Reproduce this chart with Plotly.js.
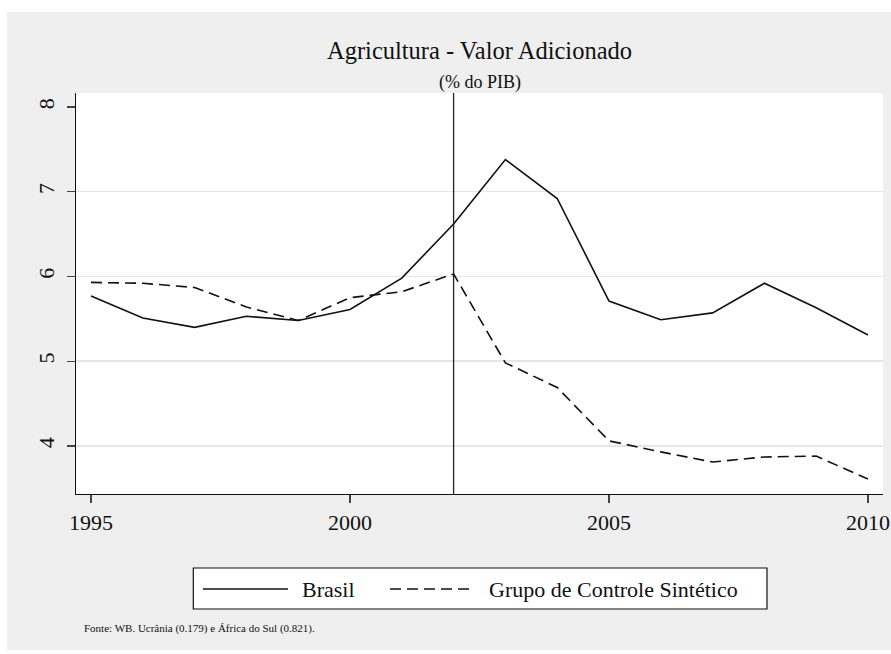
<!DOCTYPE html>
<html>
<head>
<meta charset="utf-8">
<script src="https://cdn.plot.ly/plotly-3.0.1.min.js"></script>
<style>
html,body{margin:0;padding:0;background:#ffffff;width:891px;height:654px;overflow:hidden;}
#chart{position:absolute;left:7px;top:12px;width:884px;height:638px;}
</style>
</head>
<body>
<div id="chart"></div>
<script>
const years = [1995,1996,1997,1998,1999,2000,2001,2002,2003,2004,2005,2006,2007,2008,2009,2010];
const brasil = [5.77,5.51,5.40,5.53,5.48,5.61,5.98,6.62,7.38,6.92,5.71,5.49,5.57,5.92,5.63,5.31];
const sintetico = [5.93,5.92,5.87,5.64,5.48,5.75,5.82,6.03,4.98,4.69,4.06,3.93,3.81,3.87,3.88,3.61];
const seriesNames = ["Brasil","Grupo de Controle Sintético"];
const xTicks = [1995,2000,2005,2010];
const yTicks = [4,5,6,7,8];
const gridTicks = [4,5,6,7];
const treatYear = 2002;

const serif = "Liberation Serif";
const ink = '#111111';
const dashPat = '11px,6px';

// plot area in page pixels: x 76..883, y 93..494
const PX = x => (x - 76) / 807;
const PY = y => (494 - y) / 401;

const traces = [
  {x: years, y: brasil, name: seriesNames[0], type:'scatter', mode:'lines',
   line:{color:ink, width:1.6}},
  {x: years, y: sintetico, name: seriesNames[1], type:'scatter', mode:'lines',
   line:{color:ink, width:1.6, dash:dashPat}},
  {x:[years[0]], y:[brasil[0]], yaxis:'y2', showlegend:false, hoverinfo:'skip',
   mode:'lines', line:{width:0}, type:'scatter'}
];

const layout = {
  width: 884, height: 638,
  paper_bgcolor:'#efefef', plot_bgcolor:'#ffffff',
  margin:{l:69, r:8, t:81, b:156},
  font:{family:serif, color:ink},
  showlegend:false,
  title:{text:'Agricultura - Valor Adicionado', font:{family:serif, size:24.5, color:ink},
         x:0.5, xref:'paper', xanchor:'center', y:1-38/638, yref:'container', yanchor:'middle'},
  xaxis:{range:[1994.71,2010.29], tickvals:xTicks, ticktext:xTicks.map(String),
         showgrid:false, zeroline:false, showline:true, linecolor:ink, linewidth:1.3,
         ticks:'outside', ticklen:8, tickcolor:'#444444', tickwidth:1.2,
         tickfont:{family:serif,size:22, color:ink}},
  yaxis:{range:[3.433,8.165], tickvals:yTicks, ticktext:yTicks.map(String),
         showgrid:false, zeroline:false, showline:true, linecolor:ink, linewidth:1.3,
         ticks:'outside', ticklen:8, tickcolor:'#444444', tickwidth:1.2, tickangle:-90,
         ticklabelstandoff:4,
         tickfont:{family:serif,size:22, color:ink}},
  yaxis2:{range:[3.433,8.165], overlaying:'y', tickvals:gridTicks, showticklabels:false,
          showgrid:true, gridcolor:'#e6e6e6', gridwidth:1.5, zeroline:false, showline:false, ticks:'',
          layer:'below traces'},
  shapes:[
    {type:'line', xref:'x', yref:'paper', x0:treatYear, x1:treatYear, y0:0, y1:1,
     line:{color:'#222222', width:1.3}},
    // legend box
    {type:'rect', xref:'paper', yref:'paper', x0:PX(193.3), x1:PX(767), y0:PY(609), y1:PY(568),
     fillcolor:'#ffffff', line:{color:ink, width:1.2}},
    {type:'line', xref:'paper', yref:'paper', x0:PX(203), x1:PX(288), y0:PY(589), y1:PY(589),
     line:{color:ink, width:1.6}},
    {type:'line', xref:'paper', yref:'paper', x0:PX(390), x1:PX(475), y0:PY(589), y1:PY(589),
     line:{color:ink, width:1.6, dash:dashPat}}
  ],
  annotations:[
    {text:'(% do PIB)', xref:'paper', yref:'paper', x:0.5, xanchor:'center', y:PY(82), yanchor:'middle',
     showarrow:false, font:{family:serif, size:18, color:ink}},
    {text:seriesNames[0], xref:'paper', yref:'paper', x:PX(300), xanchor:'left', y:PY(589), yanchor:'middle',
     showarrow:false, font:{family:serif, size:22, color:ink}},
    {text:seriesNames[1], xref:'paper', yref:'paper', x:PX(487), xanchor:'left', y:PY(589), yanchor:'middle',
     showarrow:false, font:{family:serif, size:22, color:ink}},
    {text:'Fonte: WB. Ucrânia (0.179) e África do Sul (0.821).', xref:'paper', yref:'paper',
     x:PX(82), y:PY(628), xanchor:'left', yanchor:'middle', showarrow:false,
     font:{family:serif, size:11, color:ink}}
  ]
};

Plotly.newPlot('chart', traces, layout, {displayModeBar:false, staticPlot:true});
</script>
</body>
</html>
